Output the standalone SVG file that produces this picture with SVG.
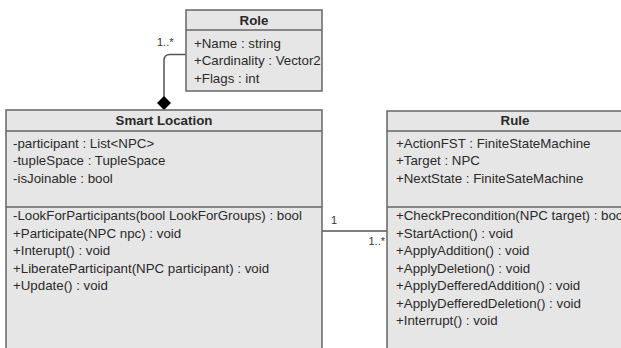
<svg xmlns="http://www.w3.org/2000/svg" width="621" height="348" viewBox="0 0 621 348">
  <style>
    .box { fill: #e6e6e6; stroke: #666666; stroke-width: 1.5; }
    .sep { stroke: #666666; stroke-width: 1.5; fill: none; }
    .title { font-family: "Liberation Sans", Arial, sans-serif; font-size: 13.3px; font-weight: bold; fill: #2a2a2a; text-anchor: middle; }
    .member { font-family: "Liberation Sans", Arial, sans-serif; font-size: 13.3px; fill: #2a2a2a; }
    .mult { font-family: "Liberation Sans", Arial, sans-serif; font-size: 11px; fill: #333333; }
    .edge { stroke: #555555; stroke-width: 1.5; fill: none; }
  </style>

  <!-- associations -->
  <g id="connectors">
    <!-- composition: Smart Location owns Role -->
    <path class="edge" d="M186 54.5 H170 Q164 54.5 164 60.5 V97"/>
    <polygon points="164,96 171,103 164,110 157,103" fill="#000000"/>
    <text class="mult" x="157" y="46">1..*</text>
    <!-- Smart Location to Rule -->
    <line class="edge" x1="322" y1="231" x2="387" y2="231"/>
    <text class="mult" x="331" y="224">1</text>
    <text class="mult" x="385" y="245" text-anchor="end">1..*</text>
  </g>

  <g id="role">
    <rect class="box" x="186" y="10" width="136" height="81"/>
    <line class="sep" x1="186" y1="30" x2="322" y2="30"/>
    <text class="title" x="254" y="24.5">Role</text>
    <text class="member" x="194" y="47.5">+Name : string</text>
    <text class="member" x="194" y="65">+Cardinality : Vector2</text>
    <text class="member" x="194" y="82.5">+Flags : int</text>
  </g>

  <g id="smart-location">
    <rect class="box" x="6" y="110" width="316" height="250"/>
    <line class="sep" x1="6" y1="131" x2="322" y2="131"/>
    <line class="sep" x1="6" y1="207" x2="322" y2="207"/>
    <text class="title" x="164" y="124.5">Smart Location</text>
    <text class="member" x="13" y="147.5">-participant : List&lt;NPC&gt;</text>
    <text class="member" x="13" y="165">-tupleSpace : TupleSpace</text>
    <text class="member" x="13" y="182.5">-isJoinable : bool</text>
    <text class="member" x="13" y="220">-LookForParticipants(bool LookForGroups) : bool</text>
    <text class="member" x="13" y="237.5">+Participate(NPC npc) : void</text>
    <text class="member" x="13" y="255">+Interupt() : void</text>
    <text class="member" x="13" y="272.5">+LiberateParticipant(NPC participant) : void</text>
    <text class="member" x="13" y="290">+Update() : void</text>
  </g>

  <g id="rule">
    <rect class="box" x="387" y="111" width="256" height="250"/>
    <line class="sep" x1="387" y1="131" x2="643" y2="131"/>
    <line class="sep" x1="387" y1="207" x2="643" y2="207"/>
    <text class="title" x="515" y="124.5">Rule</text>
    <text class="member" x="396" y="147.5">+ActionFST : FiniteStateMachine</text>
    <text class="member" x="396" y="165">+Target : NPC</text>
    <text class="member" x="396" y="182.5">+NextState : FiniteSateMachine</text>
    <text class="member" x="396" y="220">+CheckPrecondition(NPC target) : bool</text>
    <text class="member" x="396" y="237.5">+StartAction() : void</text>
    <text class="member" x="396" y="255">+ApplyAddition() : void</text>
    <text class="member" x="396" y="272.5">+ApplyDeletion() : void</text>
    <text class="member" x="396" y="290">+ApplyDefferedAddition() : void</text>
    <text class="member" x="396" y="307.5">+ApplyDefferedDeletion() : void</text>
    <text class="member" x="396" y="325">+Interrupt() : void</text>
  </g>
</svg>
